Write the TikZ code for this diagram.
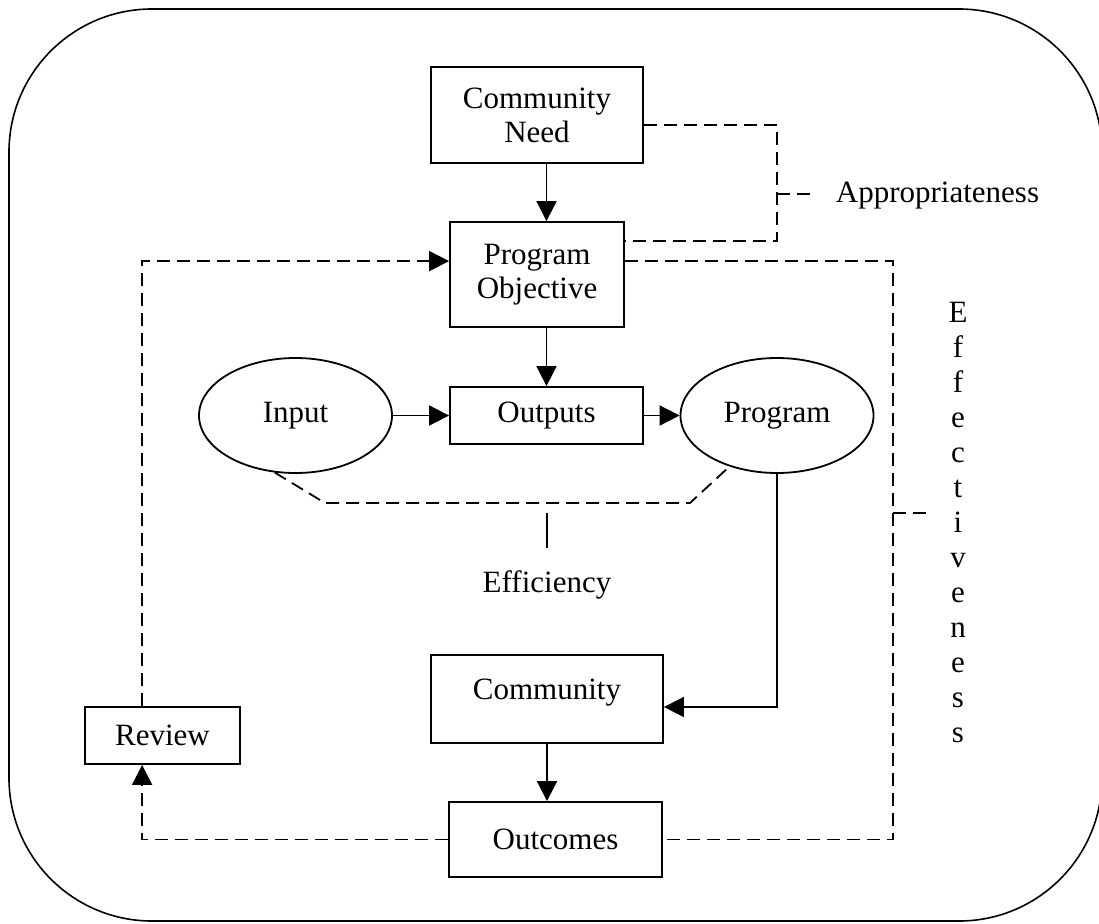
\documentclass[tikz,border=0pt]{standalone}
\usepackage{fontspec}
\setmainfont{Liberation Serif}
\usetikzlibrary{shapes.geometric,arrows.meta,calc}
\newcommand{\dfont}{\fontsize{31}{34}\selectfont}
\begin{document}
\begin{tikzpicture}[x=1pt,y=-1pt, line width=1.8pt,
  box/.style={draw, rectangle, inner sep=0pt, font=\dfont, align=center},
  oval/.style={draw, ellipse, inner sep=0pt, minimum width=193pt, minimum height=115pt, font=\dfont},
  arr/.style={-{Triangle[length=20pt,width=20pt]}},
  dsh/.style={dash pattern=on 13pt off 7pt},
  lbl/.style={font=\dfont, inner sep=0pt}]
\useasboundingbox (0,0) rectangle (1099,923);
\begin{scope}
\clip (0,0) rectangle (1099,923);
\draw[line width=1.6pt] (152,9) -- (959,9) arc[start angle=-90, end angle=0, radius=143]
  -- (1102,778) arc[start angle=0, end angle=90, radius=143]
  -- (152,921) arc[start angle=90, end angle=180, radius=143]
  -- (9,152) arc[start angle=180, end angle=270, radius=143] -- cycle;
\end{scope}

% nodes
\node[box, minimum width=212pt, minimum height=96pt] (CN) at (537,115) {Community\\Need};
\node[box, minimum width=174pt, minimum height=105pt] (PO) at (537,274.5) {Program\\Objective};
\node[box, minimum width=193pt, minimum height=57pt] (OP) at (546.5,415.5) {Outputs};
\node[oval] (IN) at (295.5,415.5) {Input};
\node[oval] (PR) at (777,415.5) {Program};
\node[box, minimum width=232pt, minimum height=88pt, text depth=20pt] (CM) at (547,699) {Community};
\node[box, minimum width=213pt, minimum height=75pt] (OC) at (555.5,839.5) {Outcomes};
\node[box, minimum width=155pt, minimum height=57pt] (RV) at (162.5,735.5) {Review};
\node[lbl, anchor=west] (AP) at (835,196) {Appropriateness};
\node[lbl] (EF) at (547,585) {Efficiency};
\node[lbl, align=center, font=\fontsize{31}{35}\selectfont] (EV) at (958,522) {E\\f\\f\\e\\c\\t\\i\\v\\e\\n\\e\\s\\s};

% coordinates
\coordinate (ap) at (777,194);
\coordinate (apt) at (813,194);
\coordinate (ev) at (893,513);
\coordinate (evt) at (928,513);
\coordinate (e1) at (325,503);
\coordinate (e2) at (690,503);
\coordinate (em) at (547,503);
\coordinate (e3) at (547,548);

% solid arrows
\draw[arr] (CN.south -| OP.north) -- (PO.north -| OP.north);
\draw[arr] (PO.south -| OP.north) -- (OP.north);
\draw[arr] (IN.east) -- (OP.west);
\draw[arr] (OP.east) -- (PR.west);
\draw[arr] (PR.south) |- ($(CM.east)+(0,8)$);
\draw[arr] (CM.south) -- (CM.south |- OC.north);

% dashed feedback
\draw[dsh, arr] (OC.west) -| ($(RV.south west)+(58,0)$);
\draw[dsh, arr] ($(RV.north west)+(58,0)$) |- ($(PO.north west)+(0,40)$);

% appropriateness bracket
\draw[dsh] ($(CN.north east)+(0,59)$) -| (ap) |- ($(PO.north east)+(0,20)$);
\draw[dsh] (ap) -- (apt);

% effectiveness bracket
\draw[dsh] ($(PO.north east)+(0,40)$) -| (ev) |- (OC.east);
\draw[dsh] (ev) -- (evt);

% efficiency bracket
\draw[dsh] (IN.250) -- (e1) -- (e2) -- (PR.227);
\draw[dash pattern=on 0pt off 10pt on 35pt off 100pt] (em) -- (e3);
\end{tikzpicture}
\end{document}
